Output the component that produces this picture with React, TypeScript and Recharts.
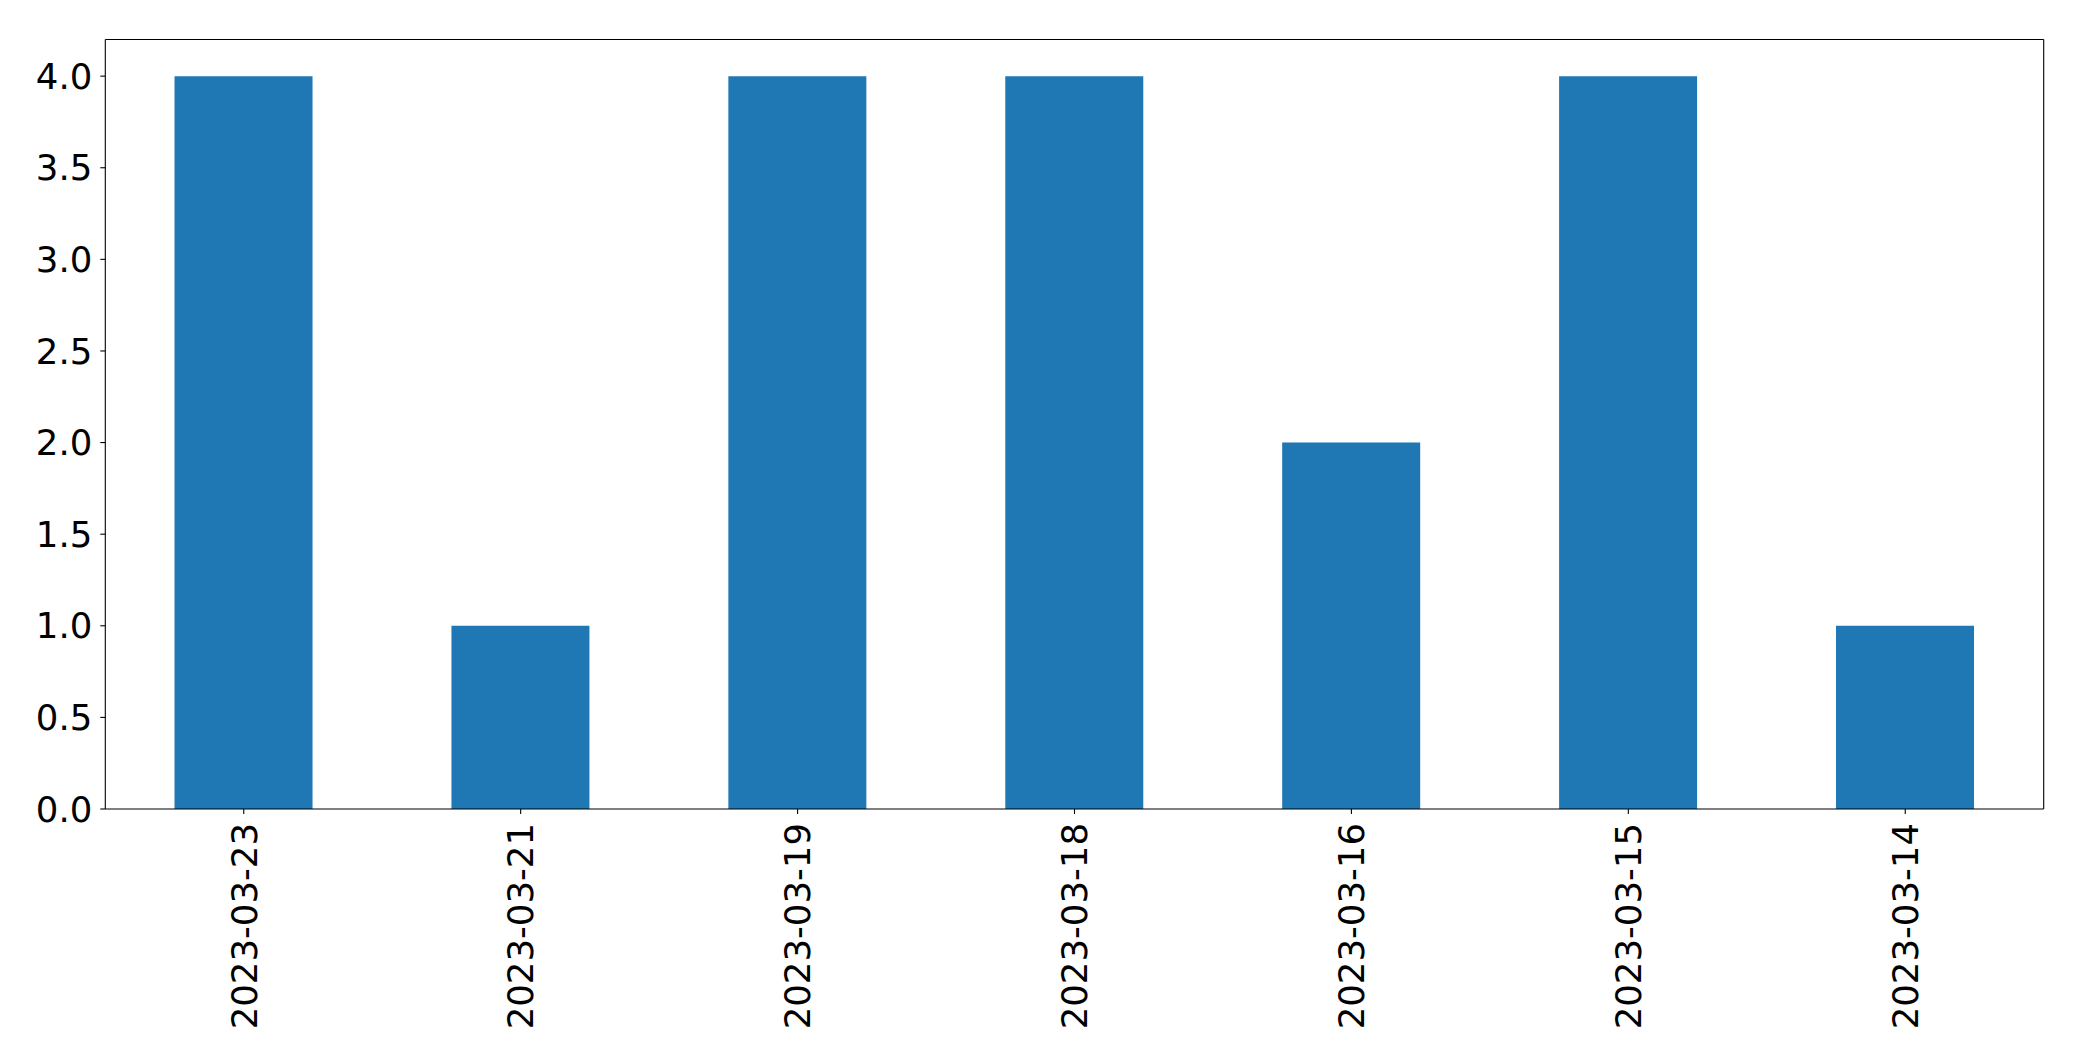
import { BarChart, Bar, XAxis, YAxis } from "recharts"

const dates = ["2023-03-23", "2023-03-21", "2023-03-19", "2023-03-18", "2023-03-16", "2023-03-15", "2023-03-14"]
const counts = [4, 1, 4, 4, 2, 4, 1]
const yTicks = [0, 0.5, 1, 1.5, 2, 2.5, 3, 3.5, 4]

const data = dates.map((d, i) => ({ date: d, count: counts[i] }))

const font = "DejaVu Sans"

function DateTick(props: any) {
  const { x, y, payload } = props
  return (
    <text
      x={x}
      y={y}
      dy="0.36em"
      transform={`rotate(-90, ${x}, ${y})`}
      textAnchor="end"
      fill="#000"
      fontSize={35.5}
      fontFamily={font}
    >
      {payload.value}
    </text>
  )
}

export default function App() {
  return (
    <div style={{ position: "absolute", left: 0, top: 0, background: "#fff" }}>
      <BarChart
        width={2082}
        height={1061}
        data={data}
        margin={{ top: 38.5, right: 37.3, left: 0, bottom: 0 }}
        barCategoryGap="25%"
      >
        <XAxis
          dataKey="date"
          height={252}
          axisLine={{ stroke: "#000", strokeWidth: 1.1 }}
          tickLine={{ stroke: "#000", strokeWidth: 1.1 }}
          tickSize={5}
          tickMargin={9}
          tick={<DateTick />}
          interval={0}
        />
        <XAxis
          xAxisId="top"
          dataKey="date"
          orientation="top"
          height={1}
          tick={false}
          tickLine={false}
          axisLine={{ stroke: "#000", strokeWidth: 1.1 }}
        />
        <YAxis
          domain={[0, 4.2]}
          ticks={yTicks}
          width={105.3}
          axisLine={{ stroke: "#000", strokeWidth: 1.1 }}
          tickLine={{ stroke: "#000", strokeWidth: 1.1 }}
          tickSize={5}
          tickMargin={8}
          tickFormatter={(v: number) => v.toFixed(1)}
          tick={{ fill: "#000", fontSize: 35.5, fontFamily: font }}
        />
        <YAxis
          yAxisId="right"
          orientation="right"
          width={1}
          tick={false}
          tickLine={false}
          axisLine={{ stroke: "#000", strokeWidth: 1.1 }}
        />
        <Bar dataKey="count" fill="#1f77b4" isAnimationActive={false} />
      </BarChart>
    </div>
  )
}
